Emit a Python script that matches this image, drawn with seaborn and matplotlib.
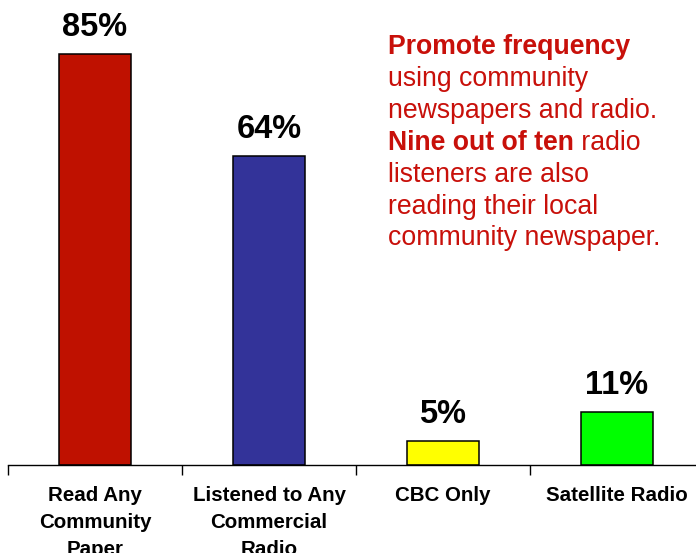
import matplotlib
matplotlib.use("Agg")
import matplotlib.pyplot as plt
import seaborn as sns
import pandas as pd

categories = ["Read Any\nCommunity\nPaper", "Listened to Any\nCommercial\nRadio", "CBC Only", "Satellite Radio"]
values = [85, 64, 5, 11]
bar_colors = ["#BF1100", "#333399", "#FFFF00", "#00FF00"]

note_lines = [
    [("Promote frequency", "bold")],
    [("using community", "normal")],
    [("newspapers and radio.", "normal")],
    [("Nine out of ten", "bold"), (" radio", "normal")],
    [("listeners are also", "normal")],
    [("reading their local", "normal")],
    [("community newspaper.", "normal")],
]
text_red = "#C8100A"

sns.set_theme(style="white")
plt.rcParams["font.family"] = ["Liberation Sans", "DejaVu Sans"]

W, H = 696, 553
fig = plt.figure(figsize=(W / 100, H / 100), dpi=100)
ax = fig.add_axes([8 / W, 88 / H, 696 / W, 435 / H])

df = pd.DataFrame({"cat": categories, "val": values})
sns.barplot(data=df, x="cat", y="val", hue="cat", palette=bar_colors,
            legend=False, width=0.41, edgecolor="black", linewidth=1.1,
            saturation=1, ax=ax)

ax.set_ylim(0, 90)
ax.set_xlim(-0.5, 3.5)
ax.set_xlabel("")
ax.set_ylabel("")
ax.set_yticks([])
for s in ["left", "top", "right"]:
    ax.spines[s].set_visible(False)
ax.spines["bottom"].set_color("black")
ax.spines["bottom"].set_linewidth(1.0)

ax.set_xticks(range(len(categories)))
ax.set_xticklabels(categories, fontsize=14.8, fontweight="bold", linespacing=1.55)
ax.tick_params(axis="x", which="major", length=0, pad=15, colors="black")
ax.set_xticks([i - 0.5 for i in range(len(categories) + 1)], minor=True)
ax.tick_params(axis="x", which="minor", length=7, width=1.0, direction="out",
               color="black", bottom=True)

for i, v in enumerate(values):
    ax.annotate(f"{v}%", (i, v), xytext=(0, 13), textcoords="offset points",
                ha="center", va="baseline", fontsize=23.5, fontweight="bold",
                color="black")

x0 = 388 / W
base0 = 54.5
step = 31.8
for k, parts in enumerate(note_lines):
    y = 1 - (base0 + k * step) / H
    prev = None
    for txt, wt in parts:
        if prev is None:
            prev = fig.text(x0, y, txt, fontsize=19.2, fontweight=wt,
                            color=text_red, ha="left", va="baseline")
        else:
            prev = ax.annotate(txt, xy=(1, 0), xycoords=prev, fontsize=19.2,
                               fontweight=wt, color=text_red, ha="left",
                               va="bottom")

fig.savefig("out.png", dpi=100)
